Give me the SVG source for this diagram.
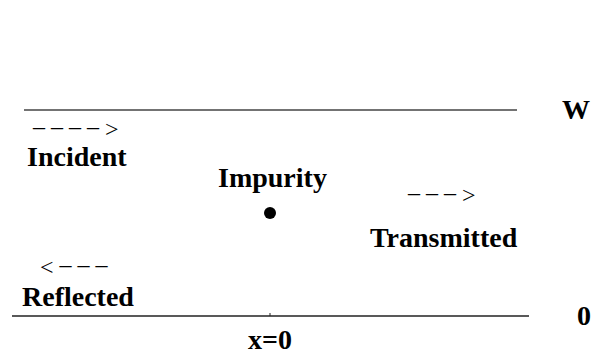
<svg xmlns="http://www.w3.org/2000/svg" width="595" height="356" viewBox="0 0 595 356">
  <style>
    text { font-family: 'Liberation Serif', 'Times New Roman', Times, 'DejaVu Serif', serif; fill: #000; }
    .lbl { font-weight: bold; font-size: 28px; }
    .arr { font-size: 24px; }
    .wall { stroke-width: 1.6; fill: none; }
  </style>
  <rect width="595" height="356" fill="#fff"/>
  <g id="connectors">
    <line class="wall" x1="24" y1="110" x2="517" y2="110" stroke="#444"/>
    <line class="wall" x1="12" y1="316" x2="529" y2="316" stroke="#222"/>
    <line x1="270" y1="313" x2="270" y2="316" stroke="#222" stroke-width="1"/>
  </g>
  <g id="label-W"><text class="lbl" x="562" y="119">W</text></g>
  <g id="label-0"><text class="lbl" x="577" y="325">0</text></g>
  <g id="incident">
    <text class="arr" x="33" y="137"><tspan dy="-3">– – – – </tspan><tspan dy="3">&gt;</tspan></text>
    <text class="lbl" x="27" y="166">Incident</text>
  </g>
  <g id="impurity">
    <text class="lbl" x="218" y="187">Impurity</text>
    <circle cx="270" cy="213" r="6" fill="#000"/>
  </g>
  <g id="transmitted">
    <text class="arr" x="408" y="203"><tspan dy="-3">– – – </tspan><tspan dy="3">&gt;</tspan></text>
    <text class="lbl" x="370" y="247">Transmitted</text>
  </g>
  <g id="reflected">
    <text class="arr" x="40" y="275">&lt;<tspan dy="-3"> – – –</tspan></text>
    <text class="lbl" x="22" y="306">Reflected</text>
  </g>
  <g id="label-x0"><text class="lbl" x="248" y="349">x=0</text></g>
</svg>
